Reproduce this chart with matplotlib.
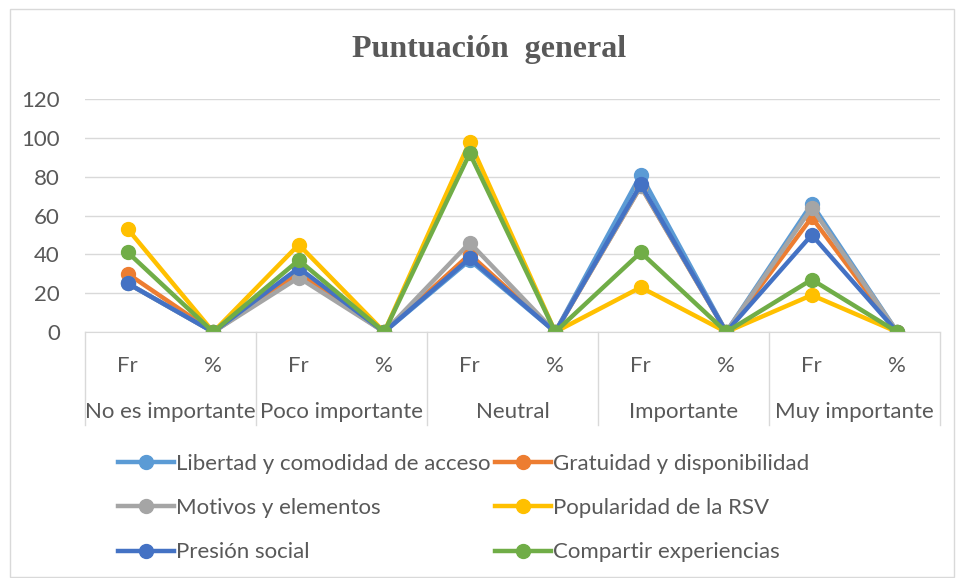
import matplotlib
matplotlib.use("Agg")
import matplotlib.pyplot as plt
import matplotlib.transforms as mtransforms
from matplotlib.patches import Rectangle

# data
groups = ["No es importante", "Poco importante", "Neutral", "Importante", "Muy importante"]
sub_labels = ["Fr", "%"]
series_names = [
    "Libertad y comodidad de acceso",
    "Gratuidad y disponibilidad",
    "Motivos y elementos",
    "Popularidad de la RSV",
    "Presión social",
    "Compartir experiencias",
]
libertad = [25, 0, 30, 0, 37, 0, 81, 0, 66, 0]
gratuidad = [30, 0, 30, 0, 40, 0, 75, 0, 59, 0]
motivos = [25, 0, 28, 0, 46, 0, 75, 0, 64, 0]
popularidad = [53, 0, 45, 0, 98, 0, 23, 0, 19, 0]
presion = [25, 0, 33, 0, 38, 0, 76, 0, 50, 0]
compartir = [41, 0, 37, 0, 92, 0, 41, 0, 27, 0]
colors = ["#5B9BD5", "#ED7D31", "#A5A5A5", "#FFC000", "#4472C4", "#70AD47"]

text_color = "#595959"
grid_color = "#d9d9d9"
font = "Lato"
fs = 16

fig = plt.figure(figsize=(9.56, 5.78), dpi=100)
ax = fig.add_axes([85 / 956, 1 - 332 / 578, 855 / 956, 233 / 578])

x = list(range(len(groups) * len(sub_labels)))
all_series = [libertad, gratuidad, motivos, popularidad, presion, compartir]
handles = []
for name, vals, c in zip(series_names, all_series, colors):
    h, = ax.plot(x, vals, color=c, linewidth=3.2, marker="o", markersize=10,
                 label=name)
    handles.append(h)

ax.set_xlim(-0.5, len(x) - 0.5)
ax.set_ylim(0, 120)
ax.set_yticks(range(0, 121, 20))
ax.set_xticks(x)
ax.set_xticklabels(sub_labels * len(groups))
ax.tick_params(axis="both", length=0, labelsize=fs, labelcolor=text_color)
ax.tick_params(axis="x", pad=17)
ax.tick_params(axis="y", pad=18)
for lab in ax.get_xticklabels() + ax.get_yticklabels():
    lab.set_fontfamily(font)

ax.grid(axis="y", color=grid_color, linewidth=1)
ax.set_axisbelow(True)
for s in ["top", "right", "left"]:
    ax.spines[s].set_visible(False)
ax.spines["bottom"].set_color(grid_color)

# multi-level category axis
trans = mtransforms.blended_transform_factory(ax.transData, ax.transAxes)
for i in range(len(groups) + 1):
    xb = i * 2 - 0.5
    ax.plot([xb, xb], [0, -0.40], color=grid_color, linewidth=1,
            transform=trans, clip_on=False)
for i, g in enumerate(groups):
    ax.text(i * 2 + 0.5, -0.343, g, transform=trans, ha="center", va="center",
            fontsize=fs, color=text_color, fontfamily=font)

fig.text(0.512, 1 - 50 / 578, "Puntuación  general", ha="center", va="center",
         fontsize=23, fontweight="bold", color=text_color,
         fontfamily="Liberation Serif")

# legend filled row by row, like the reference
order = [0, 2, 4, 1, 3, 5]
leg = fig.legend([handles[i] for i in order], [series_names[i] for i in order],
                 loc="upper left", bbox_to_anchor=(118 / 956, 1 - 454 / 578),
                 ncol=2, frameon=False, fontsize=fs, handlelength=2.5,
                 handletextpad=0.12, columnspacing=0.2, labelspacing=1.09,
                 borderaxespad=0, borderpad=0)
for t in leg.get_texts():
    t.set_color(text_color)
    t.set_fontfamily(font)

fig.patches.append(Rectangle((10 / 956, 0.002), 944 / 956, 1 - 9 / 578 - 0.002,
                             transform=fig.transFigure, fill=False,
                             edgecolor=grid_color, linewidth=1))

fig.savefig("out.png", dpi=100)
